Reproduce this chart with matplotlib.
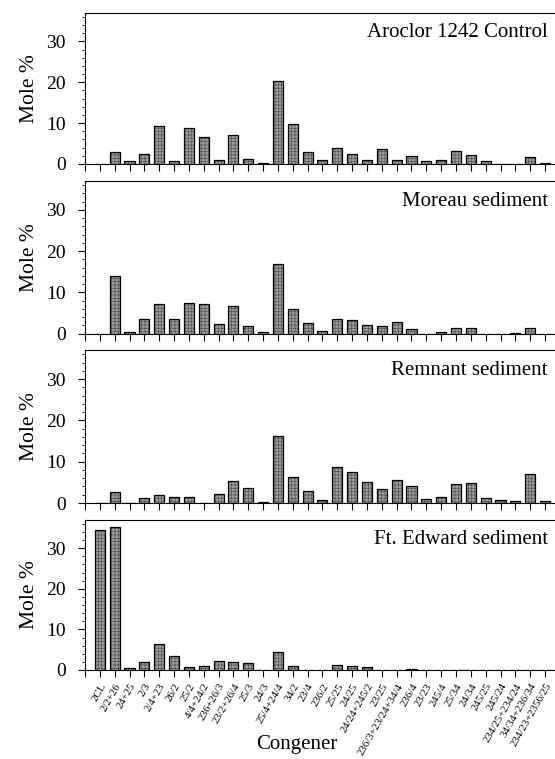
import matplotlib
matplotlib.use("Agg")
import matplotlib.pyplot as plt
from matplotlib.ticker import MultipleLocator, FixedLocator
import numpy as np

plt.rcParams["font.family"] = ["Liberation Serif", "DejaVu Serif"]
plt.rcParams["hatch.linewidth"] = 0.5

congeners = [
    "2CL", "2/2+26", "24+25", "2/3", "2/4+23", "26/2", "25/2", "4/4+24/2",
    "236+26/3", "23/2+26/4", "25/3", "24/3", "25/4+24/4", "34/2", "23/4",
    "236/2", "25/25", "24/25", "24/24+245/2", "23/25", "236/3+23/24+34/4",
    "236/4", "23/23", "245/4", "25/34", "24/34", "245/25", "245/24",
    "234/25+234/24", "34/34+236/34", "234/23+2356/25",
]

aroclor = [0, 3.0, 0.7, 2.4, 9.3, 0.65, 8.8, 6.6, 1.0, 7.0, 1.3, 0.25, 20.3,
           9.8, 2.9, 0.9, 3.9, 2.45, 1.1, 3.7, 0.9, 1.9, 0.7, 1.1, 3.3, 2.2,
           0.7, 0, 0, 1.7, 0.15]
moreau = [0, 13.9, 0.5, 3.6, 7.2, 3.6, 7.5, 7.2, 2.3, 6.65, 1.95, 0.3, 16.8,
          6.1, 2.7, 0.7, 3.6, 3.2, 2.2, 1.9, 2.9, 1.1, 0, 0.4, 1.4, 1.5,
          0, 0, 0.15, 1.4, 0]
remnant = [0, 2.7, 0, 1.2, 1.95, 1.4, 1.4, 0, 2.2, 5.4, 3.6, 0.25, 16.3,
           6.2, 2.85, 0.7, 8.7, 7.6, 5.1, 3.5, 5.6, 4.0, 1.0, 1.4, 4.55, 4.9,
           1.3, 0.65, 0.5, 7.1, 0.6]
ft_edward = [34.5, 35.2, 0.4, 2.0, 6.3, 3.4, 0.8, 1.1, 2.1, 2.05, 1.65, 0,
             4.45, 1.1, 0.1, 0, 1.3, 0.9, 0.65, 0, 0.1, 0.15, 0, 0, 0.1, 0,
             0, 0, 0, 0, 0]

panels = [
    ("Aroclor 1242 Control", aroclor),
    ("Moreau sediment", moreau),
    ("Remnant sediment", remnant),
    ("Ft. Edward sediment", ft_edward),
]

fig = plt.figure(figsize=(5.55, 7.59), dpi=100)
W, H = 555, 759
left_px = 85
tops = [12.7, 181, 350.3, 519.7]
bottoms = [164, 333.7, 503, 670]

x = np.arange(1, len(congeners) + 1)

for i, (title, vals) in enumerate(panels):
    ax = fig.add_axes([left_px / W, 1 - bottoms[i] / H,
                       1 - left_px / W, (bottoms[i] - tops[i]) / H])
    # textured grey fill, then black outline on top
    ax.bar(x, vals, width=0.68, color="#9c9c9c", edgecolor="#555555",
           linewidth=0, hatch="+++++")
    ax.bar(x, vals, width=0.68, color="none", edgecolor="black",
           linewidth=0.9)
    ax.set_xlim(0, (W - left_px) / 14.84)
    ax.set_ylim(0, 37)
    ax.spines["right"].set_visible(False)
    for s in ("left", "top", "bottom"):
        ax.spines[s].set_linewidth(0.8)
    ax.yaxis.set_major_locator(FixedLocator([0, 10, 20, 30]))
    ax.yaxis.set_minor_locator(MultipleLocator(2))
    ax.tick_params(axis="y", which="major", direction="out", length=5,
                   width=0.8, labelsize=14, pad=9)
    ax.tick_params(axis="y", which="minor", direction="out", length=2.5,
                   width=0.6)
    ax.xaxis.set_major_locator(FixedLocator(np.arange(0, len(congeners) + 1)))
    ax.tick_params(axis="x", direction="out", length=5, width=0.8)
    ax.set_ylabel("Mole %", fontsize=15.5, labelpad=5)
    ax.text(0.985, 0.93, title, transform=ax.transAxes, ha="right", va="top",
            fontsize=15)
    if i == 3:
        ax.set_xticklabels([""] + congeners, rotation=60, ha="right",
                           rotation_mode="anchor", fontsize=7.8)
    else:
        ax.set_xticklabels([])

fig.text(297 / W, 1 - 745 / H, "Congener", ha="center", va="center",
         fontsize=15)

fig.savefig("out.png", dpi=100)
